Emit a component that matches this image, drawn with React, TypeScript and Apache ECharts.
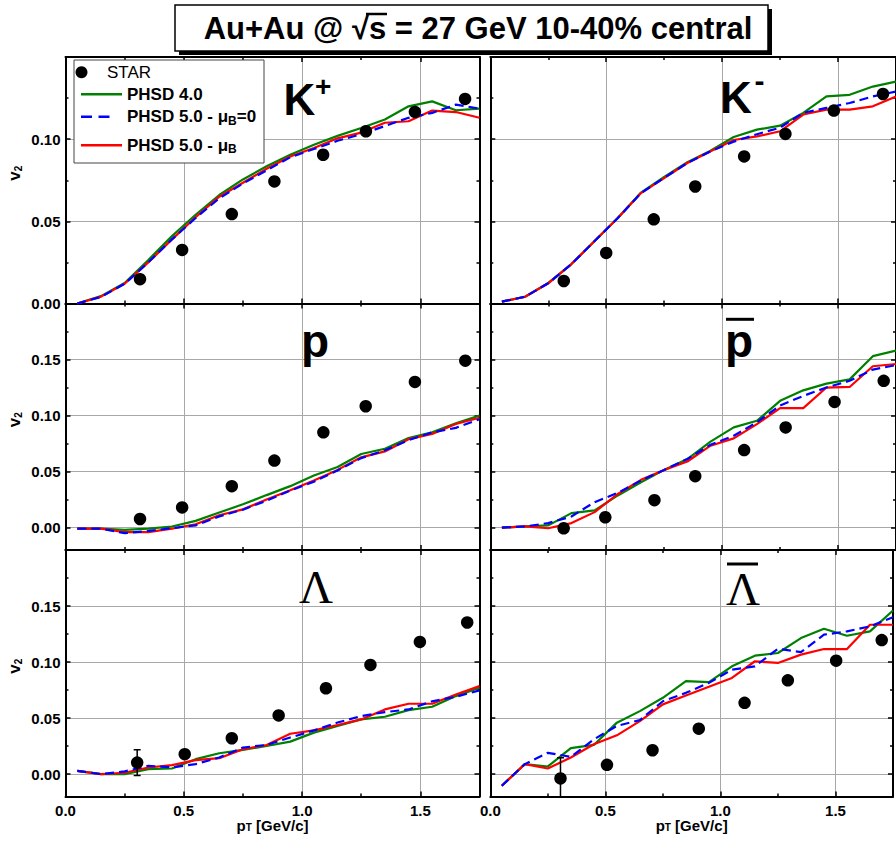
import React, { useEffect, useRef } from "react";
import * as echarts from "echarts";

// ---------------- DATA ----------------
const PT_MODEL = [0.05, 0.15, 0.25, 0.35, 0.45, 0.55, 0.65, 0.75, 0.85, 0.95, 1.05, 1.15, 1.25, 1.35, 1.45, 1.55, 1.65, 1.75];

// K+
const KP_STAR_PT = [0.315, 0.493, 0.703, 0.883, 1.089, 1.27, 1.477, 1.689];
const KP_STAR_V = [0.0148, 0.0326, 0.0544, 0.0743, 0.0905, 0.1048, 0.1166, 0.1245];
const KP_STAR_ERR = [0, 0, 0, 0, 0, 0, 0, 0];
const KP_PHSD4 = [0.0, 0.0045, 0.0125, 0.0265, 0.041, 0.054, 0.066, 0.0755, 0.0835, 0.0905, 0.0966, 0.102, 0.1068, 0.112, 0.12, 0.123, 0.1176, 0.1186];
const KP_PHSD5_MU0 = [0.0, 0.004, 0.012, 0.025, 0.039, 0.052, 0.064, 0.073, 0.081, 0.089, 0.094, 0.099, 0.103, 0.108, 0.113, 0.116, 0.121, 0.1186];
const KP_PHSD5_MU = [0.0, 0.0042, 0.012, 0.025, 0.039, 0.0525, 0.065, 0.0735, 0.082, 0.0895, 0.0946, 0.1005, 0.104, 0.11, 0.1109, 0.1174, 0.1165, 0.113];

// K-
const KM_STAR_PT = [0.317, 0.5, 0.705, 0.884, 1.095, 1.273, 1.482, 1.694];
const KM_STAR_V = [0.0137, 0.0308, 0.0512, 0.0712, 0.0895, 0.1032, 0.1174, 0.1275];
const KM_STAR_ERR = [0, 0, 0, 0, 0, 0, 0, 0];
const KM_PHSD4 = [0.0011, 0.0041, 0.0125, 0.024, 0.038, 0.052, 0.0675, 0.077, 0.086, 0.093, 0.1013, 0.1058, 0.1082, 0.116, 0.126, 0.127, 0.132, 0.135];
const KM_PHSD5_MU0 = [0.0011, 0.0041, 0.0123, 0.024, 0.038, 0.052, 0.0672, 0.0765, 0.0855, 0.0926, 0.0985, 0.103, 0.107, 0.116, 0.119, 0.122, 0.126, 0.129];
const KM_PHSD5_MU = [0.0011, 0.0041, 0.0123, 0.024, 0.038, 0.052, 0.0672, 0.0763, 0.0855, 0.0926, 0.0995, 0.1017, 0.1048, 0.115, 0.118, 0.118, 0.12, 0.126];

// p
const P_STAR_PT = [0.315, 0.493, 0.703, 0.883, 1.09, 1.269, 1.477, 1.69];
const P_STAR_V = [0.0077, 0.018, 0.037, 0.0598, 0.085, 0.1083, 0.13, 0.149];
const P_STAR_ERR = [0, 0, 0, 0, 0, 0, 0, 0];
const P_PHSD4 = [-0.001, -0.001, -0.002, -0.001, 0.001, 0.006, 0.0134, 0.0208, 0.029, 0.037, 0.0465, 0.054, 0.0657, 0.0704, 0.08, 0.085, 0.093, 0.1];
const P_PHSD5_MU0 = [-0.001, -0.001, -0.005, -0.003, -0.0005, 0.002, 0.01, 0.016, 0.024, 0.033, 0.041, 0.051, 0.062, 0.069, 0.078, 0.085, 0.089, 0.0967];
const P_PHSD5_MU = [-0.001, -0.001, -0.004, -0.004, -0.001, 0.003, 0.011, 0.0163, 0.025, 0.0334, 0.042, 0.0515, 0.0627, 0.068, 0.0789, 0.0835, 0.0924, 0.098];

// anti-p
const PB_STAR_PT = [0.3165, 0.496, 0.708, 0.884, 1.095, 1.274, 1.485, 1.697];
const PB_STAR_V = [-0.0006, 0.0092, 0.0245, 0.0459, 0.0692, 0.0894, 0.1122, 0.131];
const PB_STAR_ERR = [0, 0, 0, 0, 0, 0, 0, 0];
const PB_PHSD4 = [0.0, 0.001, 0.002, 0.0129, 0.0153, 0.0287, 0.0405, 0.0515, 0.0612, 0.0767, 0.0894, 0.0953, 0.1131, 0.1225, 0.1285, 0.1323, 0.153, 0.158];
const PB_PHSD5_MU0 = [0.0, 0.001, 0.004, 0.0099, 0.0227, 0.031, 0.042, 0.0515, 0.0612, 0.074, 0.082, 0.094, 0.109, 0.1175, 0.125, 0.131, 0.141, 0.145];
const PB_PHSD5_MU = [0.0, 0.001, -0.0006, 0.004, 0.0138, 0.03, 0.0426, 0.0515, 0.059, 0.0731, 0.0796, 0.0923, 0.1066, 0.1066, 0.125, 0.1255, 0.144, 0.146];

// Lambda
const L_STAR_PT = [0.303, 0.504, 0.703, 0.901, 1.101, 1.289, 1.498, 1.698];
const L_STAR_V = [0.0103, 0.0178, 0.032, 0.0524, 0.0766, 0.0974, 0.118, 0.1353];
const L_STAR_ERR = [0.0115, 0, 0, 0, 0, 0, 0, 0];
const L_PHSD4 = [0.0029, 0.0, -0.0001, 0.0044, 0.005, 0.0133, 0.0186, 0.0216, 0.0251, 0.029, 0.037, 0.043, 0.0488, 0.0512, 0.0571, 0.0601, 0.0696, 0.077];
const L_PHSD5_MU0 = [0.0029, 0.0, 0.0024, 0.0074, 0.006, 0.0089, 0.0148, 0.0237, 0.026, 0.0326, 0.039, 0.046, 0.0518, 0.0553, 0.0577, 0.065, 0.069, 0.0747];
const L_PHSD5_MU = [0.0029, 0.0, 0.0012, 0.0059, 0.008, 0.0124, 0.0142, 0.0222, 0.026, 0.036, 0.039, 0.0438, 0.0488, 0.0577, 0.0628, 0.0628, 0.0711, 0.0785];

// anti-Lambda
const LB_STAR_PT = [0.305, 0.507, 0.705, 0.906, 1.105, 1.293, 1.503, 1.701];
const LB_STAR_V = [-0.0039, 0.0083, 0.0213, 0.0405, 0.0636, 0.0837, 0.1012, 0.1196];
const LB_STAR_ERR = [0.0185, 0, 0, 0, 0, 0, 0, 0];
const LB_PHSD4 = [-0.0104, 0.0089, 0.0068, 0.0231, 0.026, 0.0459, 0.0562, 0.0681, 0.0829, 0.082, 0.0962, 0.1057, 0.1081, 0.1214, 0.1297, 0.1235, 0.1274, 0.146];
const LB_PHSD5_MU0 = [-0.0104, 0.0089, 0.019, 0.0154, 0.031, 0.043, 0.0482, 0.065, 0.0725, 0.0814, 0.0932, 0.0962, 0.1119, 0.1089, 0.1244, 0.1274, 0.1318, 0.14];
const LB_PHSD5_MU = [-0.0104, 0.0089, 0.005, 0.0148, 0.0266, 0.0346, 0.0473, 0.0622, 0.0701, 0.0779, 0.0858, 0.1007, 0.0992, 0.1066, 0.1116, 0.1116, 0.1333, 0.1333];

const X_TICK_LABELS = ["0.0", "0.5", "1.0", "1.5"];
const Y_TICK_LABELS_TOP = ["0.00", "0.05", "0.10"];
const Y_TICK_LABELS_LOWER = ["0.00", "0.05", "0.10", "0.15"];

const SERIES_NAMES = ["STAR", "PHSD 4.0", "PHSD 5.0 - μB=0", "PHSD 5.0 - μB"];
const TITLE = "Au+Au @ √s = 27 GeV 10-40% central";

// ---------------- LAYOUT ----------------
const FONT = '"Liberation Sans", Arial, Helvetica, sans-serif';
const SERIF = '"Liberation Serif", "Times New Roman", serif';
const COL_LEFT = [65.5, 490.3];
const COL_WIDTH = [414, 413];
const ROW_TOP = [57, 303.5, 550];
const ROW_H = 246.5;
const ROW_YMIN = [0, -0.02, -0.02];
const ROW_YMAX = [0.15, 0.2, 0.2];
const GREEN = "#008000";
const BLUE = "#0000ff";
const RED = "#ff0000";
const ICON_SOLID = "path://M0,0L41,0L41,2.4L0,2.4Z";
const ICON_DASHED = "path://M0,0L11,0L11,2.4L0,2.4ZM17.5,0L28.5,0L28.5,2.4L17.5,2.4ZM41,0L41,2.4";

const panels = [
  { pt: KP_STAR_PT, v: KP_STAR_V, err: KP_STAR_ERR, g: KP_PHSD4, b: KP_PHSD5_MU0, r: KP_PHSD5_MU },
  { pt: KM_STAR_PT, v: KM_STAR_V, err: KM_STAR_ERR, g: KM_PHSD4, b: KM_PHSD5_MU0, r: KM_PHSD5_MU },
  { pt: P_STAR_PT, v: P_STAR_V, err: P_STAR_ERR, g: P_PHSD4, b: P_PHSD5_MU0, r: P_PHSD5_MU },
  { pt: PB_STAR_PT, v: PB_STAR_V, err: PB_STAR_ERR, g: PB_PHSD4, b: PB_PHSD5_MU0, r: PB_PHSD5_MU },
  { pt: L_STAR_PT, v: L_STAR_V, err: L_STAR_ERR, g: L_PHSD4, b: L_PHSD5_MU0, r: L_PHSD5_MU },
  { pt: LB_STAR_PT, v: LB_STAR_V, err: LB_STAR_ERR, g: LB_PHSD4, b: LB_PHSD5_MU0, r: LB_PHSD5_MU },
];

function buildOption() {
  const grid: any[] = [];
  const xAxis: any[] = [];
  const yAxis: any[] = [];
  const series: any[] = [];
  const tickStyle = { color: "#000", width: 1.5 };
  const subRich = {
    sub: { fontSize: 10, fontWeight: "bold", fontFamily: FONT, color: "#000", lineHeight: 2, verticalAlign: "bottom" },
  };

  panels.forEach((pd, gi) => {
    const row = Math.floor(gi / 2);
    const col = gi % 2;
    grid.push({ left: COL_LEFT[col], top: ROW_TOP[row], width: COL_WIDTH[col], height: ROW_H, containLabel: false });
    const xBase = {
      type: "value",
      gridIndex: gi,
      min: 0,
      max: 1.75,
      interval: 0.5,
      axisLine: { show: true, onZero: false, lineStyle: { color: "#000", width: 2 } },
      axisTick: { show: true, inside: true, length: 5, lineStyle: tickStyle },
      minorTick: { show: true, splitNumber: 2, length: 3, lineStyle: tickStyle },
    };
    xAxis.push({
      ...xBase,
      position: "bottom",
      splitLine: { show: true, lineStyle: { color: "#a8a8a8", width: 1 } },
      axisLabel: {
        show: row === 2,
        margin: 6,
        fontSize: 15,
        fontWeight: "bold",
        fontFamily: FONT,
        color: "#000",
        formatter: (v: number) => {
          const s = v.toFixed(1);
          return X_TICK_LABELS.includes(s) ? s : "";
        },
      },
      name: row === 2 ? "p{sub|T} [GeV/c]" : "",
      nameLocation: "middle",
      nameGap: 22,
      nameTextStyle: { fontSize: 15, fontWeight: "bold", fontFamily: FONT, color: "#000", lineHeight: 14, rich: subRich },
    });
    xAxis.push({
      ...xBase,
      position: "top",
      splitLine: { show: false },
      axisLabel: { show: false },
    });
    const labels = row === 0 ? Y_TICK_LABELS_TOP : Y_TICK_LABELS_LOWER;
    const yBase: any = {
      type: "value",
      gridIndex: gi,
      min: ROW_YMIN[row],
      max: ROW_YMAX[row],
      splitNumber: 4,
      axisLine: { show: true, onZero: false, lineStyle: { color: "#000", width: 2 } },
      axisTick: { show: true, inside: true, length: 5, lineStyle: tickStyle },
      minorTick: { show: true, splitNumber: 2, length: 3, lineStyle: tickStyle },
    };
    if (row === 0) yBase.interval = 0.05;
    yAxis.push({
      ...yBase,
      position: "left",
      splitLine: { show: true, lineStyle: { color: "#a8a8a8", width: 1 } },
      axisLabel: {
        show: col === 0,
        margin: 5,
        fontSize: 15,
        fontWeight: "bold",
        fontFamily: FONT,
        color: "#000",
        formatter: (v: number) => {
          let s = v.toFixed(2);
          if (s === "-0.00") s = "0.00";
          return labels.includes(s) ? s : "";
        },
      },
      name: col === 0 ? "v{sub|2}" : "",
      nameLocation: "middle",
      nameGap: 42,
      nameTextStyle: {
        fontSize: 17,
        fontWeight: "bold",
        fontFamily: FONT,
        color: "#000",
        lineHeight: 18,
        padding: [0, 0, 0, 14],
        rich: subRich,
      },
    });
    yAxis.push({
      ...yBase,
      position: "right",
      splitLine: { show: false },
      axisLabel: { show: false },
    });

    const xi = gi * 2;
    series.push({
      type: "scatter",
      name: SERIES_NAMES[0],
      xAxisIndex: xi,
      yAxisIndex: xi,
      data: pd.pt.map((x, i) => [x, pd.v[i]]),
      symbol: "circle",
      symbolSize: 12.5,
      itemStyle: { color: "#000", opacity: 1 },
      z: 5,
    });
    series.push({
      type: "custom",
      name: "STAR errors",
      xAxisIndex: xi,
      yAxisIndex: xi,
      clip: true,
      z: 4,
      data: pd.pt.map((x, i) => [x, pd.v[i], pd.err[i]]),
      encode: { x: 0, y: 1 },
      renderItem: (params: any, api: any) => {
        const x = api.value(0);
        const y = api.value(1);
        const e = api.value(2);
        if (!(e > 0)) return null;
        const p1 = api.coord([x, y + e]);
        const p2 = api.coord([x, y - e]);
        const w = 3.5;
        const st = { stroke: "#000", lineWidth: 1.5 };
        return {
          type: "group",
          children: [
            { type: "line", shape: { x1: p1[0], y1: p1[1], x2: p2[0], y2: p2[1] }, style: st },
            { type: "line", shape: { x1: p1[0] - w, y1: p1[1], x2: p1[0] + w, y2: p1[1] }, style: st },
            { type: "line", shape: { x1: p2[0] - w, y1: p2[1], x2: p2[0] + w, y2: p2[1] }, style: st },
          ],
        };
      },
    });
    const lineDef = (name: string, vals: number[], color: string, type: any, z: number) => ({
      type: "line",
      name,
      xAxisIndex: xi,
      yAxisIndex: xi,
      data: PT_MODEL.map((x, i) => [x, vals[i]]),
      symbol: "none",
      showSymbol: false,
      lineStyle: { color, width: 2.2, type },
      itemStyle: { color },
      clip: true,
      z,
    });
    series.push(lineDef(SERIES_NAMES[1], pd.g, GREEN, "solid", 2));
    series.push(lineDef(SERIES_NAMES[3], pd.r, RED, "solid", 3));
    series.push(lineDef(SERIES_NAMES[2], pd.b, BLUE, [9, 5], 3));
  });

  const legendText = {
    fontSize: 17,
    fontWeight: "bold",
    fontFamily: FONT,
    color: "#000",
    lineHeight: 20,
    rich: {
      sub: { fontSize: 12, fontWeight: "bold", fontFamily: FONT, color: "#000", lineHeight: 2, verticalAlign: "bottom" },
    },
  };
  const legendFormatter = (name: string) => name.replace("μB", "μ{sub|B}");
  const legendCenters = [72.3, 94.3, 116.7, 145.2];
  const legendIcons = ["circle", ICON_SOLID, ICON_DASHED, ICON_SOLID];
  const legend = SERIES_NAMES.map((nm, i) => ({
    data: [{ name: nm, icon: legendIcons[i] }],
    left: i === 0 ? 75.5 : 81,
    top: legendCenters[i] - 10,
    orient: "vertical",
    padding: 0,
    itemWidth: 41,
    itemHeight: i === 0 ? 12 : 14,
    itemStyle: { opacity: 1 },
    formatter: legendFormatter,
    textStyle: i === 0 ? { ...legendText, fontWeight: "normal" } : legendText,
  }));

  const txt = (text: string, x: number, y: number, size: number, extra: any = {}) => ({
    type: "text",
    x,
    y,
    z: 20,
    style: {
      text,
      fontSize: size,
      fontWeight: "bold",
      fontFamily: FONT,
      fill: "#000",
      align: "left",
      verticalAlign: "middle",
      textAlign: "left",
      textVerticalAlign: "middle",
      ...extra,
    },
  });
  const bar = (x1: number, x2: number, y: number, w: number) => ({
    type: "line",
    z: 20,
    shape: { x1, y1: y, x2, y2: y },
    style: { stroke: "#000", lineWidth: w },
  });

  const graphic = [
    { type: "rect", z: 10, shape: { x: 179, y: 9, width: 593, height: 46 }, style: { fill: "#000" } },
    { type: "rect", z: 11, shape: { x: 175, y: 5, width: 593, height: 46 }, style: { fill: "#fff", stroke: "#000", lineWidth: 1.5 } },
    txt(TITLE, 478, 28.3, 31, { align: "center", textAlign: "center" }),
    bar(366, 387, 14, 2.5),
    { type: "rect", z: 3, shape: { x: 74, y: 60, width: 190, height: 103 }, style: { fill: "#fff", stroke: "#444", lineWidth: 1 } },
    txt("K", 283.5, 99, 44),
    txt("+", 315, 86, 28),
    txt("K", 720, 97, 44),
    txt("-", 754.5, 80, 30),
    txt("p", 301, 341, 46),
    txt("p", 725, 341, 46),
    bar(726, 754, 319.3, 3),
    txt("Λ", 316, 587, 47, { fontFamily: SERIF, fontWeight: "normal", align: "center", textAlign: "center" }),
    txt("Λ", 743, 588.5, 47, { fontFamily: SERIF, fontWeight: "normal", align: "center", textAlign: "center" }),
    bar(727, 758, 564, 3),
  ];

  return {
    animation: false,
    backgroundColor: "#fff",
    textStyle: { fontFamily: FONT },
    grid,
    xAxis,
    yAxis,
    series,
    legend,
    graphic,
  };
}

export default function App() {
  const ref = useRef<HTMLDivElement>(null);
  useEffect(() => {
    if (!ref.current) return;
    const chart = echarts.init(ref.current, undefined, { renderer: "svg" });
    chart.setOption(buildOption() as any);
    return () => chart.dispose();
  }, []);
  return <div ref={ref} style={{ position: "absolute", left: 0, top: 0, width: 896, height: 841 }} />;
}
